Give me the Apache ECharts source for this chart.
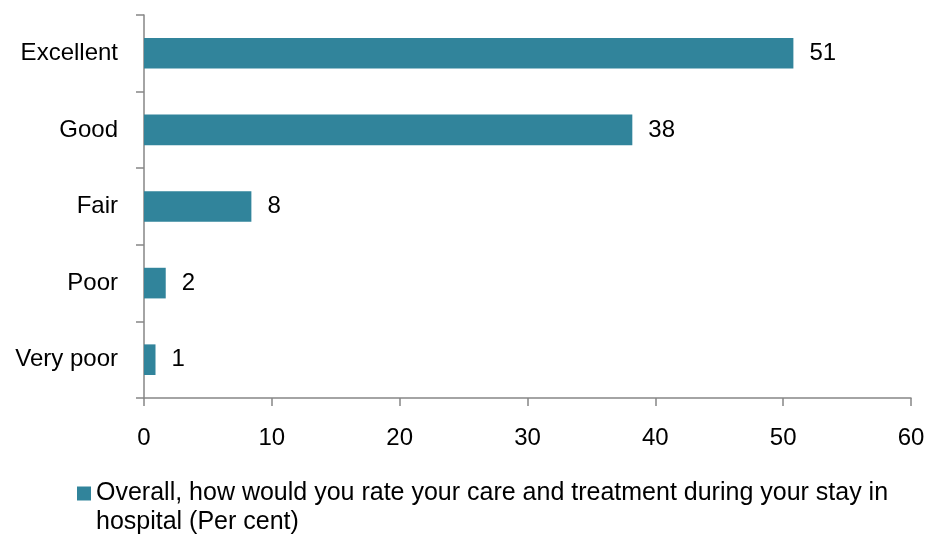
<!DOCTYPE html>
<html>
<head>
<meta charset="utf-8">
<script src="https://cdn.jsdelivr.net/npm/echarts@6/dist/echarts.min.js"></script>
<style>
html,body{margin:0;padding:0;background:#fff;}
#chart{width:928px;height:534px;}
</style>
</head>
<body>
<div id="chart"></div>
<script>
const categories = ["Excellent", "Good", "Fair", "Poor", "Very poor"];
const values = [50.8, 38.2, 8.4, 1.7, 0.9];
const xTicks = [0, 10, 20, 30, 40, 50, 60];
const seriesName = "Overall, how would you rate your care and treatment during your stay in hospital (Per cent)";
const legendLines = ["Overall, how would you rate your care and treatment during your stay in", "hospital (Per cent)"];

const FONT = "'Liberation Sans', Arial, sans-serif";
const chart = echarts.init(document.getElementById('chart'));
chart.setOption({
  animation: false,
  grid: {left: 144, right: 17, top: 15, bottom: 136, containLabel: false},
  legend: {
    left: 77, top: 450, padding: 0,
    itemWidth: 14, itemHeight: 14, itemGap: 8,
    icon: 'rect',
    data: [seriesName],
    formatter: function (n) {
      return "\n" + legendLines.join("\n");
    },
    textStyle: {fontFamily: FONT, fontSize: 25, color: '#000', lineHeight: 29}
  },
  xAxis: {
    type: 'value', min: xTicks[0], max: xTicks[xTicks.length - 1], interval: 10,
    axisLine: {show: true, lineStyle: {color: '#868686', width: 1.5}},
    axisTick: {show: true, length: 8, lineStyle: {color: '#868686', width: 1.5}},
    splitLine: {show: false},
    axisLabel: {fontFamily: FONT, fontSize: 24, color: '#000', margin: 28}
  },
  yAxis: {
    type: 'category', data: categories, inverse: true,
    axisLine: {show: true, lineStyle: {color: '#868686', width: 1.5}},
    axisTick: {show: true, length: 8, lineStyle: {color: '#868686', width: 1.5}},
    axisLabel: {fontFamily: FONT, fontSize: 24, color: '#000', margin: 26}
  },
  series: [{
    name: seriesName,
    type: 'bar',
    data: values,
    barCategoryGap: '60%',
    itemStyle: {color: '#31849B'},
    label: {
      show: true, position: 'right', distance: 16,
      fontFamily: FONT, fontSize: 24, color: '#000',
      formatter: function (p) { return Math.round(p.value); }
    }
  }]
});
</script>
</body>
</html>
